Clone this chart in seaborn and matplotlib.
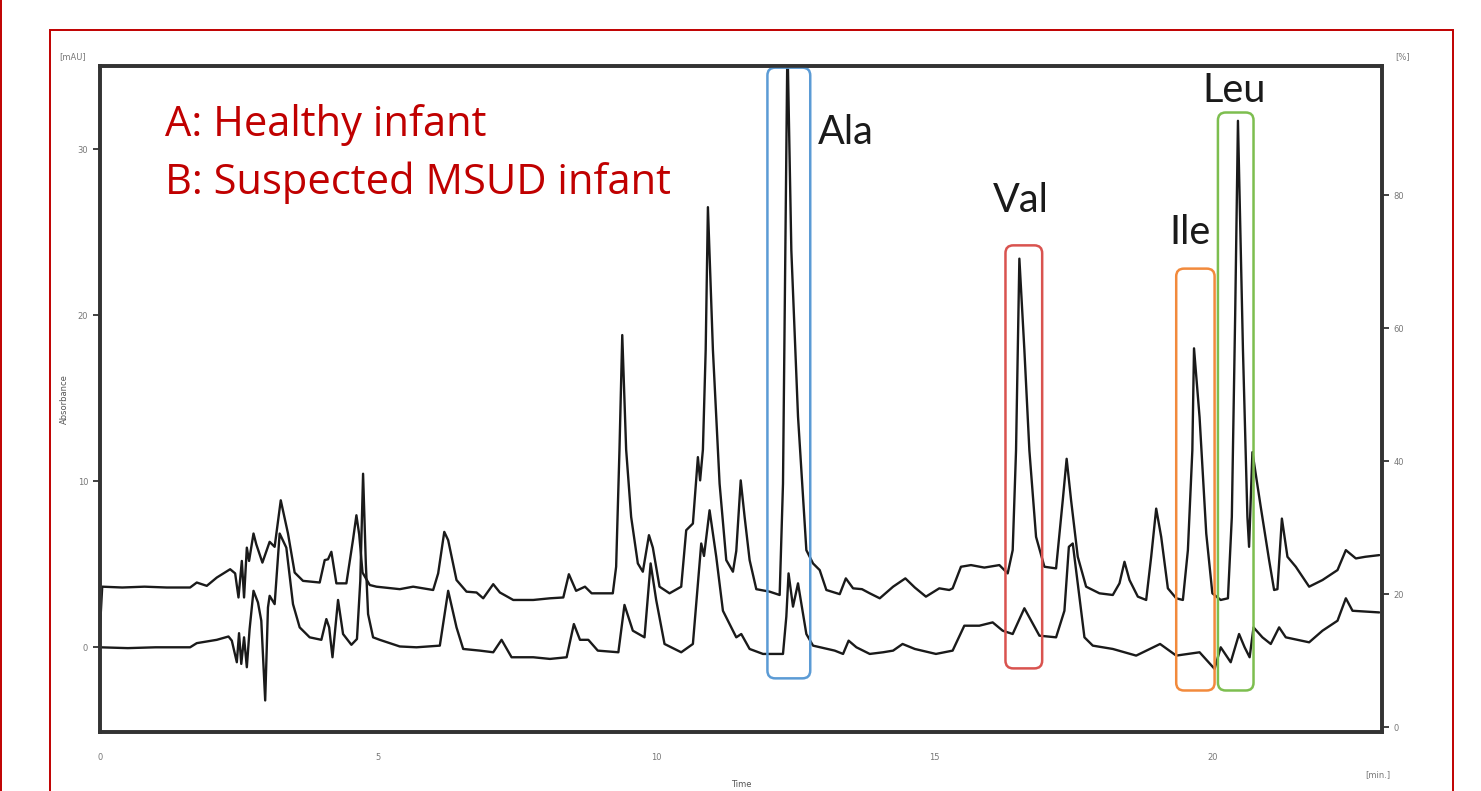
import matplotlib
matplotlib.use("Agg")
import matplotlib.pyplot as plt
import seaborn as sns
import pandas as pd
from matplotlib.patches import FancyBboxPatch, Rectangle
from matplotlib.lines import Line2D

# Trace A (upper, offset) - time [min] and absorbance [mAU]
time_a = [0.00, 0.04, 0.40, 0.80, 1.20, 1.62, 1.74, 1.92, 2.10, 2.34, 2.43, 2.49, 2.55, 2.59,
          2.64, 2.68, 2.76, 2.81, 2.92, 3.05, 3.14, 3.25, 3.38, 3.50, 3.65, 3.95, 4.04, 4.10,
          4.16, 4.25, 4.43, 4.55, 4.61, 4.66, 4.72, 4.85, 4.97, 5.39, 5.63, 5.99, 6.08, 6.19,
          6.26, 6.41, 6.59, 6.77, 6.89, 7.07, 7.19, 7.43, 7.79, 8.09, 8.33, 8.43, 8.56, 8.72,
          8.84, 9.22, 9.28, 9.34, 9.39, 9.46, 9.55, 9.67, 9.76, 9.87, 9.94, 10.06, 10.24, 10.45,
          10.54, 10.66, 10.75, 10.79, 10.84, 10.89, 10.93, 11.02, 11.14, 11.26, 11.38, 11.44,
          11.52, 11.59, 11.68, 11.80, 12.04, 12.22, 12.28, 12.36, 12.43, 12.55, 12.70, 12.82,
          12.94, 13.06, 13.30, 13.41, 13.54, 13.70, 13.84, 14.02, 14.26, 14.48, 14.65, 14.85,
          15.09, 15.27, 15.33, 15.48, 15.66, 15.90, 16.17, 16.32, 16.41, 16.47, 16.53, 16.62,
          16.71, 16.83, 16.98, 17.19, 17.31, 17.38, 17.46, 17.58, 17.73, 17.97, 18.21, 18.33,
          18.42, 18.51, 18.66, 18.81, 18.90, 18.99, 19.08, 19.20, 19.35, 19.47, 19.56, 19.64,
          19.67, 19.77, 19.89, 20.00, 20.15, 20.28, 20.35, 20.41, 20.46, 20.55, 20.63, 20.66,
          20.72, 20.87, 21.02, 21.11, 21.17, 21.25, 21.35, 21.50, 21.74, 21.98, 22.25, 22.40,
          22.58, 22.75, 23.00]
abs_a = [1.2, 3.65, 3.6, 3.65, 3.6, 3.6, 3.9, 3.7, 4.2, 4.7, 4.45, 3.0, 5.2, 3.0,
         6.0, 5.2, 6.85, 6.2, 5.1, 6.35, 6.05, 8.85, 6.85, 4.5, 4.0, 3.9, 5.25, 5.3,
         5.75, 3.85, 3.85, 6.5, 7.95, 6.8, 4.5, 3.75, 3.65, 3.5, 3.65, 3.45, 4.45, 6.95,
         6.45, 4.05, 3.35, 3.3, 2.95, 3.8, 3.3, 2.85, 2.85, 2.95, 3.0, 4.4, 3.4, 3.65,
         3.25, 3.25, 4.85, 11.9, 18.8, 11.9, 7.85, 5.05, 4.55, 6.75, 6.0, 3.65, 3.25, 3.65,
         7.05, 7.45, 11.45, 10.05, 11.9, 17.9, 26.5, 17.9, 9.85, 5.25, 4.55, 5.8,
         10.05, 7.85, 5.25, 3.5, 3.35, 3.15, 9.85, 36.5, 23.9, 13.9, 5.85, 5.05,
         4.65, 3.45, 3.2, 4.15, 3.55, 3.5, 3.25, 2.95, 3.65, 4.15, 3.6, 3.05,
         3.55, 3.45, 3.55, 4.85, 4.95, 4.8, 4.95, 4.45, 5.85, 11.85, 23.4, 17.9,
         11.85, 6.65, 4.85, 4.75, 8.85, 11.35, 8.85, 5.45, 3.65, 3.25, 3.15, 3.85,
         5.15, 4.05, 3.05, 2.85, 5.45, 8.35, 6.65, 3.55, 2.95, 2.85, 5.85, 11.85,
         18.0, 13.85, 6.85, 3.25, 2.85, 2.95, 7.85, 20.0, 31.7, 17.9, 7.85, 6.05,
         11.75, 8.45, 5.25, 3.45, 3.5, 7.75, 5.45, 4.85, 3.65, 4.05, 4.65, 5.85,
         5.35, 5.45, 5.55]

# Trace B (lower)
time_b = [0.00, 0.50, 1.00, 1.62, 1.74, 2.10, 2.31, 2.37, 2.46, 2.50, 2.54, 2.59, 2.64, 2.69,
          2.76, 2.84, 2.90, 2.97, 3.02, 3.05, 3.14, 3.23, 3.35, 3.47, 3.59, 3.77, 3.98, 4.07,
          4.12, 4.18, 4.28, 4.37, 4.52, 4.62, 4.68, 4.73, 4.78, 4.82, 4.91, 5.03, 5.39, 5.69,
          6.11, 6.26, 6.41, 6.53, 6.83, 7.07, 7.22, 7.40, 7.79, 8.09, 8.39, 8.52, 8.63, 8.78,
          8.95, 9.32, 9.43, 9.58, 9.79, 9.90, 10.00, 10.15, 10.45, 10.66, 10.81, 10.86, 10.96,
          11.08, 11.20, 11.44, 11.53, 11.68, 11.92, 12.28, 12.34, 12.38, 12.46, 12.55, 12.70,
          12.82, 13.21, 13.36, 13.46, 13.60, 13.84, 14.08, 14.26, 14.43, 14.65, 15.03, 15.33,
          15.54, 15.81, 16.05, 16.23, 16.41, 16.62, 16.89, 17.19, 17.34, 17.42, 17.49, 17.58,
          17.70, 17.85, 18.21, 18.63, 19.06, 19.35, 19.77, 20.04, 20.15, 20.33, 20.48, 20.58,
          20.67, 20.74, 20.90, 21.05, 21.20, 21.32, 21.74, 21.98, 22.25, 22.40, 22.52, 23.00]
abs_b = [0.0, -0.05, 0.0, 0.0, 0.25, 0.45, 0.65, 0.4, -0.9, 0.85, -1.0, 0.6, -1.2, 1.1,
         3.4, 2.7, 1.6, -3.2, 2.4, 3.1, 2.6, 6.85, 6.0, 2.6, 1.2, 0.6, 0.45, 1.7,
         1.2, -0.6, 2.85, 0.8, 0.15, 0.5, 4.0, 10.45, 5.0, 2.0, 0.6, 0.45, 0.05, 0.0,
         0.1, 3.4, 1.2, -0.1, -0.2, -0.3, 0.45, -0.6, -0.6, -0.7, -0.6, 1.4, 0.45, 0.45,
         -0.2, -0.3, 2.55, 1.0, 0.6, 5.05, 2.85, 0.2, -0.3, 0.2, 6.25, 5.5, 8.25,
         5.45, 2.2, 0.6, 0.8, -0.1, -0.4, -0.4, 1.85, 4.45, 2.45, 3.85, 0.8,
         0.1, -0.2, -0.4, 0.4, 0.0, -0.4, -0.3, -0.2, 0.2, -0.1, -0.4, -0.2,
         1.3, 1.3, 1.5, 1.0, 0.8, 2.35, 0.7, 0.6, 2.2, 6.05, 6.25, 3.85,
         0.6, 0.1, -0.1, -0.5, 0.2, -0.5, -0.3, -1.3, 0.0, -0.9, 0.8, 0.0,
         -0.6, 1.2, 0.6, 0.2, 1.2, 0.6, 0.3, 1.0, 1.6, 2.95, 2.2, 2.1]

# Highlighted amino acid peaks: label, box (t0, t1, y0, y1), colour, label anchor
peak_names = ["Ala", "Val", "Ile", "Leu"]
peak_boxes = [(12.0, 12.77, -1.87, 34.9), (16.28, 16.94, -1.27, 24.2),
              (19.35, 20.04, -2.6, 22.8), (20.1, 20.74, -2.6, 32.2)]
peak_colors = ["#5B9BD5", "#D9534F", "#F28A3C", "#7DBE4F"]
peak_label_xy = [(12.9, 31.0), (16.05, 26.9), (19.23, 25.0), (19.82, 33.55)]

df_a = pd.DataFrame({"Time": time_a, "Absorbance": abs_a})
df_b = pd.DataFrame({"Time": time_b, "Absorbance": abs_b})

sns.set_style("white")
plt.rcParams["font.family"] = ["DejaVu Sans"]

fig = plt.figure(figsize=(14.81, 7.91), dpi=100)
ax = fig.add_axes([100 / 1481, 1 - 732 / 791, 1282 / 1481, 666 / 791])

sns.lineplot(data=df_a, x="Time", y="Absorbance", ax=ax, color="#1a1a1a",
             linewidth=1.7, estimator=None, sort=False)
sns.lineplot(data=df_b, x="Time", y="Absorbance", ax=ax, color="#1a1a1a",
             linewidth=1.7, estimator=None, sort=False)

ax.set_xlim(0, 23.05)
ax.set_ylim(-5.1, 35)
ax.set_xticks([0, 5, 10, 15, 20])
ax.set_yticks([0, 10, 20, 30])
ax.tick_params(axis="both", labelsize=6, labelcolor="#777777", length=5, width=1.3,
               color="#333333", direction="out")
ax.tick_params(axis="x", pad=10)
ax.set_xlabel("Time", fontsize=6, color="#555555", labelpad=13)
ax.set_ylabel("Absorbance", fontsize=6, color="#555555", labelpad=6)
for s in ax.spines.values():
    s.set_linewidth(2.6)
    s.set_color("#333333")

# right percent axis
ax2 = ax.twinx()
ax2.set_ylim(-0.75, 99.4)
ax2.set_yticks([0, 20, 40, 60, 80])
ax2.tick_params(axis="y", labelsize=6, labelcolor="#777777", length=5, width=1.3,
                color="#333333", direction="out")
for s in ax2.spines.values():
    s.set_linewidth(2.6)
    s.set_color("#333333")

fig.text(73 / 1481, 1 - 57 / 791, "[mAU]", fontsize=6, color="#777777", ha="center", va="center")
fig.text(1403 / 1481, 1 - 57 / 791, "[%]", fontsize=6, color="#777777", ha="center", va="center")
fig.text(1378 / 1481, 1 - 775 / 791, "[min.]", fontsize=6, color="#777777", ha="center", va="center")

# highlight boxes
for name, (t0, t1, y0, y1), col, (lx, ly) in zip(peak_names, peak_boxes, peak_colors, peak_label_xy):
    box = FancyBboxPatch((t0, y0), t1 - t0, y1 - y0,
                         boxstyle="round,pad=0,rounding_size=0.14",
                         mutation_aspect=3.35, fill=False, edgecolor=col,
                         linewidth=1.8, zorder=5, clip_on=False)
    ax.add_patch(box)
    ax.text(lx, ly, name, fontsize=28.5, family=["Lato", "DejaVu Sans"], color="#1a1a1a",
            ha="left", va="center")

ax.text(1.17, 31.45, "A: Healthy infant", fontsize=30, family=["Open Sans", "DejaVu Sans"],
        color="#C00000", ha="left", va="center")
ax.text(1.17, 27.95, "B: Suspected MSUD infant", fontsize=30, family=["Open Sans", "DejaVu Sans"],
        color="#C00000", ha="left", va="center")

# red slide frame
fig.add_artist(Rectangle((50 / 1481, -0.02), 1403 / 1481, 1 - 30 / 791 + 0.02,
                         transform=fig.transFigure, fill=False, edgecolor="#C00000", linewidth=1.4))
fig.add_artist(Line2D([1 / 1481, 1 / 1481], [0, 1 - 30 / 791 + 0.08], transform=fig.transFigure,
                      color="#C00000", linewidth=1.4))

fig.savefig("out.png", dpi=100)
